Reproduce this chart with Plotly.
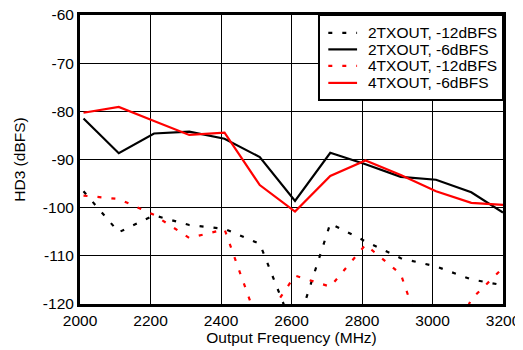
import plotly.graph_objects as go

# output frequency points (MHz)
freq = [2010, 2110, 2210, 2310, 2410, 2510, 2610, 2710, 2810, 2910, 3010, 3110, 3200]

# HD3 (dBFS)
tx2_m12 = [-96.6, -105.1, -101.6, -103.6, -104.4, -107.5, -126.0, -103.3, -107.0, -110.5, -112.2, -114.9, -116.1]
tx2_m6 = [-81.5, -88.7, -84.6, -84.2, -85.7, -89.5, -98.6, -88.6, -91.0, -93.6, -94.2, -96.8, -101.0]
tx4_m12 = [-97.5, -98.2, -101.5, -106.3, -104.5, -125.0, -114.1, -116.4, -107.7, -113.8, -135.0, -119.0, -112.5]
tx4_m6 = [-80.3, -79.1, -82.0, -84.9, -84.4, -95.3, -100.8, -93.4, -90.2, -93.2, -96.6, -99.0, -99.4]

series = [
    ("2TXOUT, -12dBFS", tx2_m12, "black", "4px,10px"),
    ("2TXOUT, -6dBFS", tx2_m6, "black", "solid"),
    ("4TXOUT, -12dBFS", tx4_m12, "#ff0000", "4px,10px"),
    ("4TXOUT, -6dBFS", tx4_m6, "#ff0000", "solid"),
]

x_ticks = [2000, 2200, 2400, 2600, 2800, 3000, 3200]
y_ticks = [-120, -110, -100, -90, -80, -70, -60]
y_labels = ["-120", "-110", "-100", "-90", "-80", "-70", "-60"]

FS = 15.5

fig = go.Figure()
for name, vals, colour, dash in series:
    fig.add_trace(go.Scatter(
        x=freq, y=vals, name=name, mode="lines", showlegend=False,
        line=dict(color=colour, width=2.2, dash=dash),
    ))

axis_common = dict(
    showline=True, linecolor="black", linewidth=3, mirror=True,
    showgrid=True, gridcolor="black", gridwidth=1,
    zeroline=False, ticks="", automargin=False, ticklabeloverflow="allow",
    tickfont=dict(size=FS, color="black"),
    title_font=dict(size=FS, color="black"),
)

fig.update_xaxes(range=[2000, 3200], tickvals=x_ticks,
                 title_text="Output Frequency (MHz)", title_standoff=2, **axis_common)
fig.update_yaxes(range=[-120, -60], tickvals=y_ticks, ticktext=y_labels,
                 title_text="HD3 (dBFS)", title_standoff=14, **axis_common)

# legend drawn by hand so the rows sit as tight as in the reference
box_left, box_bottom = 0.565, 0.706
row_y = [0.938, 0.881, 0.824, 0.765]
fig.add_shape(type="rect", xref="x domain", yref="y domain",
              x0=box_left, x1=1, y0=box_bottom, y1=1,
              line=dict(color="black", width=2), fillcolor="white", layer="above")
for (name, vals, colour, dash), ry in zip(series, row_y):
    fig.add_shape(type="line", xref="x domain", yref="y domain",
                  x0=0.587, x1=0.655, y0=ry, y1=ry, layer="above",
                  line=dict(color=colour, width=2.2, dash=dash))
    fig.add_annotation(text=name, xref="x domain", yref="y domain",
                       x=0.676, y=ry, xanchor="left", yanchor="middle",
                       showarrow=False, font=dict(size=FS, color="black"))

# the page body adds an 8px offset, so the margins are shifted to compensate
fig.update_layout(
    width=523, height=350,
    margin=dict(l=72, r=28, t=7, b=54),
    paper_bgcolor="white", plot_bgcolor="white",
    font=dict(family="Arial, Liberation Sans, sans-serif", size=FS, color="black"),
    showlegend=False,
)

fig.write_html("out.html")
